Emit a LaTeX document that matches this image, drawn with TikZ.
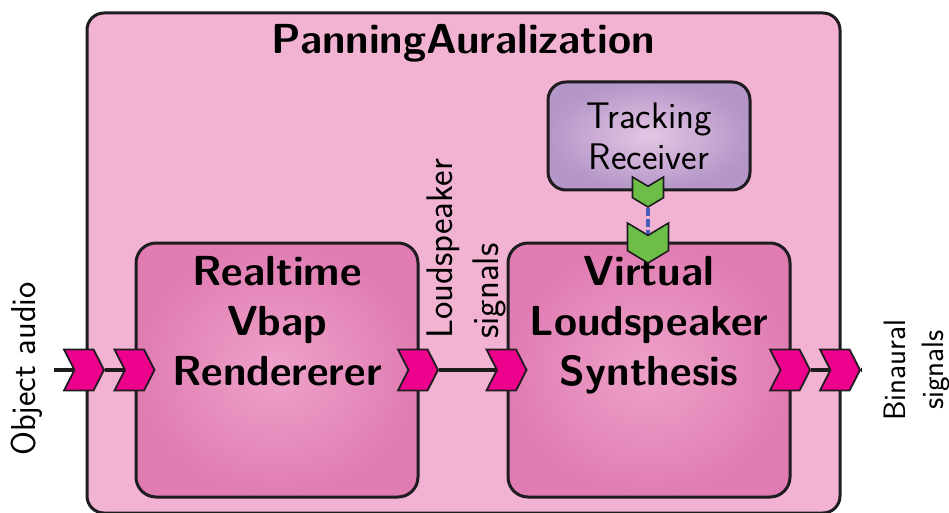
\documentclass[tikz,border=0pt]{standalone}
\usepackage{fontspec}
\usetikzlibrary{shapes.symbols,positioning,calc}

\definecolor{panpink}{RGB}{242,178,210}
\definecolor{blocklight}{RGB}{238,162,202}
\definecolor{blockdark}{RGB}{224,124,178}
\definecolor{tracklight}{RGB}{228,198,228}
\definecolor{trackdark}{RGB}{180,150,200}
\definecolor{portpink}{RGB}{236,0,140}
\definecolor{portgreen}{RGB}{108,190,70}
\definecolor{linkblue}{RGB}{70,92,185}
\definecolor{edge}{RGB}{30,28,30}

\tikzset{
  outerbox/.style={draw=edge, line width=3pt, fill=panpink, rounded corners=17pt,
    minimum width=753pt, minimum height=500pt, inner sep=0pt},
  block/.style={draw=edge, line width=3pt, rounded corners=20pt,
    inner color=blocklight, outer color=blockdark,
    minimum width=282pt, minimum height=254pt, inner sep=0pt},
  trackbox/.style={draw=edge, line width=3pt, rounded corners=18pt,
    inner color=tracklight, outer color=trackdark,
    minimum width=202pt, minimum height=108pt, inner sep=0pt, align=center,
    font=\sffamily\fontsize{37}{41}\selectfont},
  boldtext/.style={align=center, font=\sffamily\bfseries\fontsize{42}{50}\selectfont},
  port/.style={signal, signal from=west, signal to=east, signal pointer angle=126,
    draw=edge, line width=1.8pt, fill=portpink, inner sep=0pt,
    minimum width=40pt, minimum height=41pt},
  gport/.style={signal, signal from=west, signal to=east, signal pointer angle=118,
    rotate=-90, draw=edge, line width=1.6pt, fill=portgreen, inner sep=0pt},
  wire/.style={draw=edge, line width=3.5pt},
  lbl/.style={rotate=90, align=center, inner sep=0pt}
}

\begin{document}
\begin{tikzpicture}[x=1pt,y=1pt]
  \useasboundingbox (0,0) rectangle (949,512);

  % outer component
  \node[outerbox] (pan) at (463.5,249) {};
  \node[boldtext, anchor=base] (pantitle) at (463.5,458) {PanningAuralization};

  % inner blocks
  \node[block] (vbap) at (277,142) {};
  \node[boldtext, anchor=north] (vbaptext) at ([yshift=-11pt]vbap.north) {Realtime\\Vbap\\Rendererer};
  \node[block] (vls) at (649,142) {};
  \node[boldtext, anchor=north] (vlstext) at ([yshift=-11pt]vls.north) {Virtual\\Loudspeaker\\Synthesis};
  \node[trackbox] (track) at (649,376) {Tracking\\Receiver};

  % ports
  \node[port] (p1) at (84,142) {};
  \node[port] (p2) at (134.5,142) {};
  \node[port] (p3) at (418,142) {};
  \node[port] (p4) at (506.5,142) {};
  \node[port] (p5) at (790,142) {};
  \node[port] (p6) at (840,142) {};
  \node[gport, minimum width=30pt, minimum height=31pt] (g1) at (648,320) {};
  \node[gport, minimum width=40pt, minimum height=41pt] (g2) at (648,269) {};

  \coordinate (src) at (54,142);
  \coordinate (dst) at (862,142);

  % connectors
  \draw[wire] (src) -- (p1);
  \draw[wire] (p1) -- (p2);
  \draw[wire] (p3) -- (p4);
  \draw[wire] (p5) -- (p6);
  \draw[wire] (p6) -- (dst);
  \draw[linkblue, line width=4.5pt, dash pattern=on 8pt off 3pt] (g1) -- (g2);

  % labels
  \node[lbl, font=\sffamily\fontsize{34.5}{40}\selectfont] (objlbl) at (27,143) {Object audio};
  \node[lbl, anchor=west, align=left, font=\sffamily\fontsize{37}{46}\selectfont] (lslbl) at (466,173) {Loudspeaker\\signals};
  \node[lbl, font=\sffamily\fontsize{31}{38}\selectfont] (binlbl) at (917,142) {Binaural\\signals};
\end{tikzpicture}
\end{document}
